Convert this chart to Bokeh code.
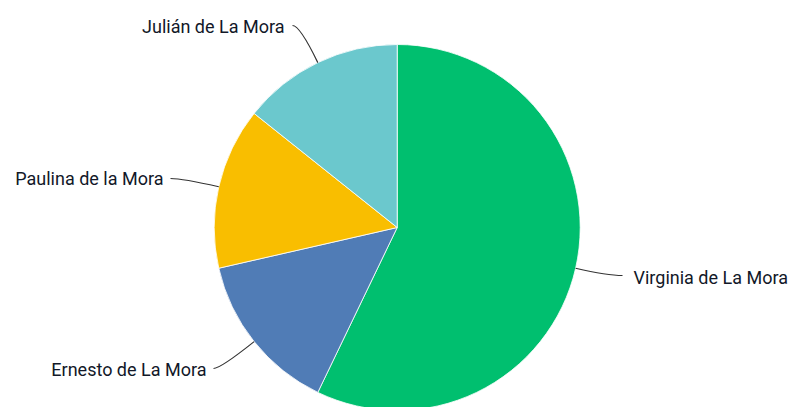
import math
from bokeh.plotting import figure
from bokeh.models import Range1d, ColumnDataSource
from bokeh.core.properties import value
from bokeh.embed import file_html
from bokeh.resources import INLINE

# ---- data ----
names = ["Virginia de La Mora", "Ernesto de La Mora", "Paulina de la Mora", "Julián de La Mora"]
counts = [4, 1, 1, 1]
colors = ["#00BF6F", "#507CB6", "#F9BE00", "#6BC8CD"]

# ---- layout (screen-like coordinates: x right, y measured from page top) ----
W, H = 790, 407
CX, CY, R = 396.7, 227.0, 183.0
# connector end points (next to the labels), screen coords
label_ends = [(622, 275), (213, 368), (170, 178), (292, 25)]
# text anchor points, screen coords, and alignment
label_text_pos = [(633, 277), (206, 369), (163, 178), (284, 26)]
label_align = ["left", "right", "right", "right"]


def sy(y):
    return H - y


total = float(sum(counts))
cum = 0.0
starts, ends, mids = [], [], []
for c in counts:
    a0 = math.pi / 2 - 2 * math.pi * cum / total
    cum += c
    a1 = math.pi / 2 - 2 * math.pi * cum / total
    starts.append(a0)
    ends.append(a1)
    mids.append((a0 + a1) / 2)

p = figure(width=W, height=H, x_range=Range1d(0, W), y_range=Range1d(0, H),
           output_backend="svg", toolbar_location=None, min_border=0,
           x_axis_type=None, y_axis_type=None)
p.grid.visible = False
p.outline_line_color = None

src = ColumnDataSource(dict(start=starts, end=ends, color=colors, name=names))
p.wedge(x=CX, y=sy(CY), radius=R, start_angle="start", end_angle="end",
        direction="clock", fill_color="color", line_color="white", line_width=0.8,
        source=src)

# connectors: from slice edge at mid angle, curving to the label
x0s, y0s, x1s, y1s, cxs, cys = [], [], [], [], [], []
for m, (ex, ey) in zip(mids, label_ends):
    dx, dy = math.cos(m), math.sin(m)
    px, py = CX + R * dx, sy(CY) + R * dy
    ey_d = sy(ey)
    t = (ey_d - py) / dy if abs(dy) > 1e-6 else 0
    ctrlx = px + t * dx
    x0s.append(px); y0s.append(py)
    x1s.append(ex); y1s.append(ey_d)
    cxs.append(ctrlx); cys.append(ey_d)

p.quadratic(x0=x0s, y0=y0s, x1=x1s, y1=y1s, cx=cxs, cy=cys,
            line_color="#333333", line_width=1.2)

for align in ("left", "right"):
    idx = [i for i, a in enumerate(label_align) if a == align]
    p.text(x=[label_text_pos[i][0] for i in idx], y=[sy(label_text_pos[i][1]) for i in idx],
           text=[names[i] for i in idx], text_align=align, text_baseline="middle",
           text_font=value("Roboto"), text_font_size="18px", text_color="#121828")

open("out.html", "w").write(file_html(p, INLINE))
